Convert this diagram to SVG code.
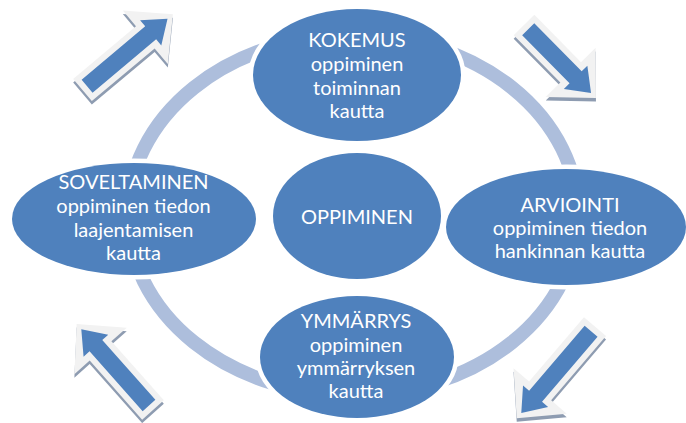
<svg xmlns="http://www.w3.org/2000/svg" xmlns:xlink="http://www.w3.org/1999/xlink" width="686" height="423" viewBox="0 0 686 423">
<style>
.ring{fill:none;stroke:#adbedc;stroke-width:14}
.node{fill:#4f81bd;stroke:#ffffff;stroke-width:9;paint-order:stroke}
.txt{font-family:Lato,"Open Sans","Liberation Sans",sans-serif;font-size:20px;fill:#ffffff;text-anchor:middle}
.ao{fill:#f2f2f2}
.ai{fill:#4f81bd}
.as{fill:#8e9cb1}
</style>
<defs>
<path id="tlO" transform="translate(82.5,90) rotate(-40)" d="M0,-14.5 H82 V-35 L118,0 L82,35 V14.5 H0 Z"/>
<path id="tlI" transform="translate(82.5,90) rotate(-40)" d="M6,-8.5 H89 V-16.5 L111,0 L89,16.5 V8.5 H6 Z"/>
<path id="trO" transform="translate(524,25) rotate(45.4)" d="M0,-14.5 H66.5 V-35 L102.5,0 L66.5,35 V14.5 H0 Z"/>
<path id="trI" transform="translate(524,25) rotate(45.4)" d="M6,-8.5 H73.5 V-16.5 L95.5,0 L73.5,16.5 V8.5 H6 Z"/>
<path id="brO" transform="translate(595,326.7) rotate(130.5)" d="M0,-14.5 H84.5 V-35 L120.5,0 L84.5,35 V14.5 H0 Z"/>
<path id="brI" transform="translate(595,326.7) rotate(130.5)" d="M6,-8.5 H91.5 V-16.5 L113.5,0 L91.5,16.5 V8.5 H6 Z"/>
<path id="blO" transform="translate(153,410) rotate(-131.6)" d="M0,-14.5 H79 V-35 L115,0 L79,35 V14.5 H0 Z"/>
<path id="blI" transform="translate(153,410) rotate(-131.6)" d="M6,-8.5 H86 V-16.5 L108,0 L86,16.5 V8.5 H6 Z"/>
</defs>

<g id="connectors">
<ellipse class="ring" cx="353" cy="215" rx="225" ry="180"/>
</g>

<g id="arrows">
<g id="arrow-tl">
<use href="#tlO" xlink:href="#tlO" class="as" transform="translate(0,3.5)"/>
<use href="#tlO" xlink:href="#tlO" class="ao"/>
<use href="#tlI" xlink:href="#tlI" class="ai"/>
</g>
<g id="arrow-tr">
<use href="#trO" xlink:href="#trO" class="as" transform="translate(0,3.5)"/>
<use href="#trO" xlink:href="#trO" class="ao"/>
<use href="#trI" xlink:href="#trI" class="ai"/>
</g>
<g id="arrow-br">
<use href="#brO" xlink:href="#brO" class="as" transform="translate(0,3.5)"/>
<use href="#brO" xlink:href="#brO" class="ao"/>
<use href="#brI" xlink:href="#brI" class="ai"/>
</g>
<g id="arrow-bl">
<use href="#blO" xlink:href="#blO" class="as" transform="translate(0,3.5)"/>
<use href="#blO" xlink:href="#blO" class="ao"/>
<use href="#blI" xlink:href="#blI" class="ai"/>
</g>
</g>

<g id="node-kokemus">
<ellipse class="node" cx="357" cy="75" rx="104" ry="66"/>
<text class="txt" x="357" y="47">KOKEMUS</text>
<text class="txt" x="357" y="71">oppiminen</text>
<text class="txt" x="357" y="94.5">toiminnan</text>
<text class="txt" x="357" y="118">kautta</text>
</g>

<g id="node-arviointi">
<ellipse class="node" cx="566" cy="227" rx="120" ry="58"/>
<text class="txt" x="570" y="212">ARVIOINTI</text>
<text class="txt" x="570" y="235">oppiminen tiedon</text>
<text class="txt" x="570" y="258">hankinnan kautta</text>
</g>

<g id="node-ymmarrys">
<ellipse class="node" cx="357" cy="357" rx="97" ry="61"/>
<text class="txt" x="356" y="328">YMMÄRRYS</text>
<text class="txt" x="356" y="352">oppiminen</text>
<text class="txt" x="356" y="375">ymmärryksen</text>
<text class="txt" x="356" y="398">kautta</text>
</g>

<g id="node-soveltaminen">
<ellipse class="node" cx="134" cy="219" rx="122" ry="56"/>
<text class="txt" x="133.5" y="189">SOVELTAMINEN</text>
<text class="txt" x="133.5" y="213">oppiminen tiedon</text>
<text class="txt" x="133.5" y="237">laajentamisen</text>
<text class="txt" x="133.5" y="260">kautta</text>
</g>

<g id="node-oppiminen">
<ellipse class="node" cx="357" cy="216" rx="84" ry="63"/>
<text class="txt" x="357" y="224">OPPIMINEN</text>
</g>
</svg>
